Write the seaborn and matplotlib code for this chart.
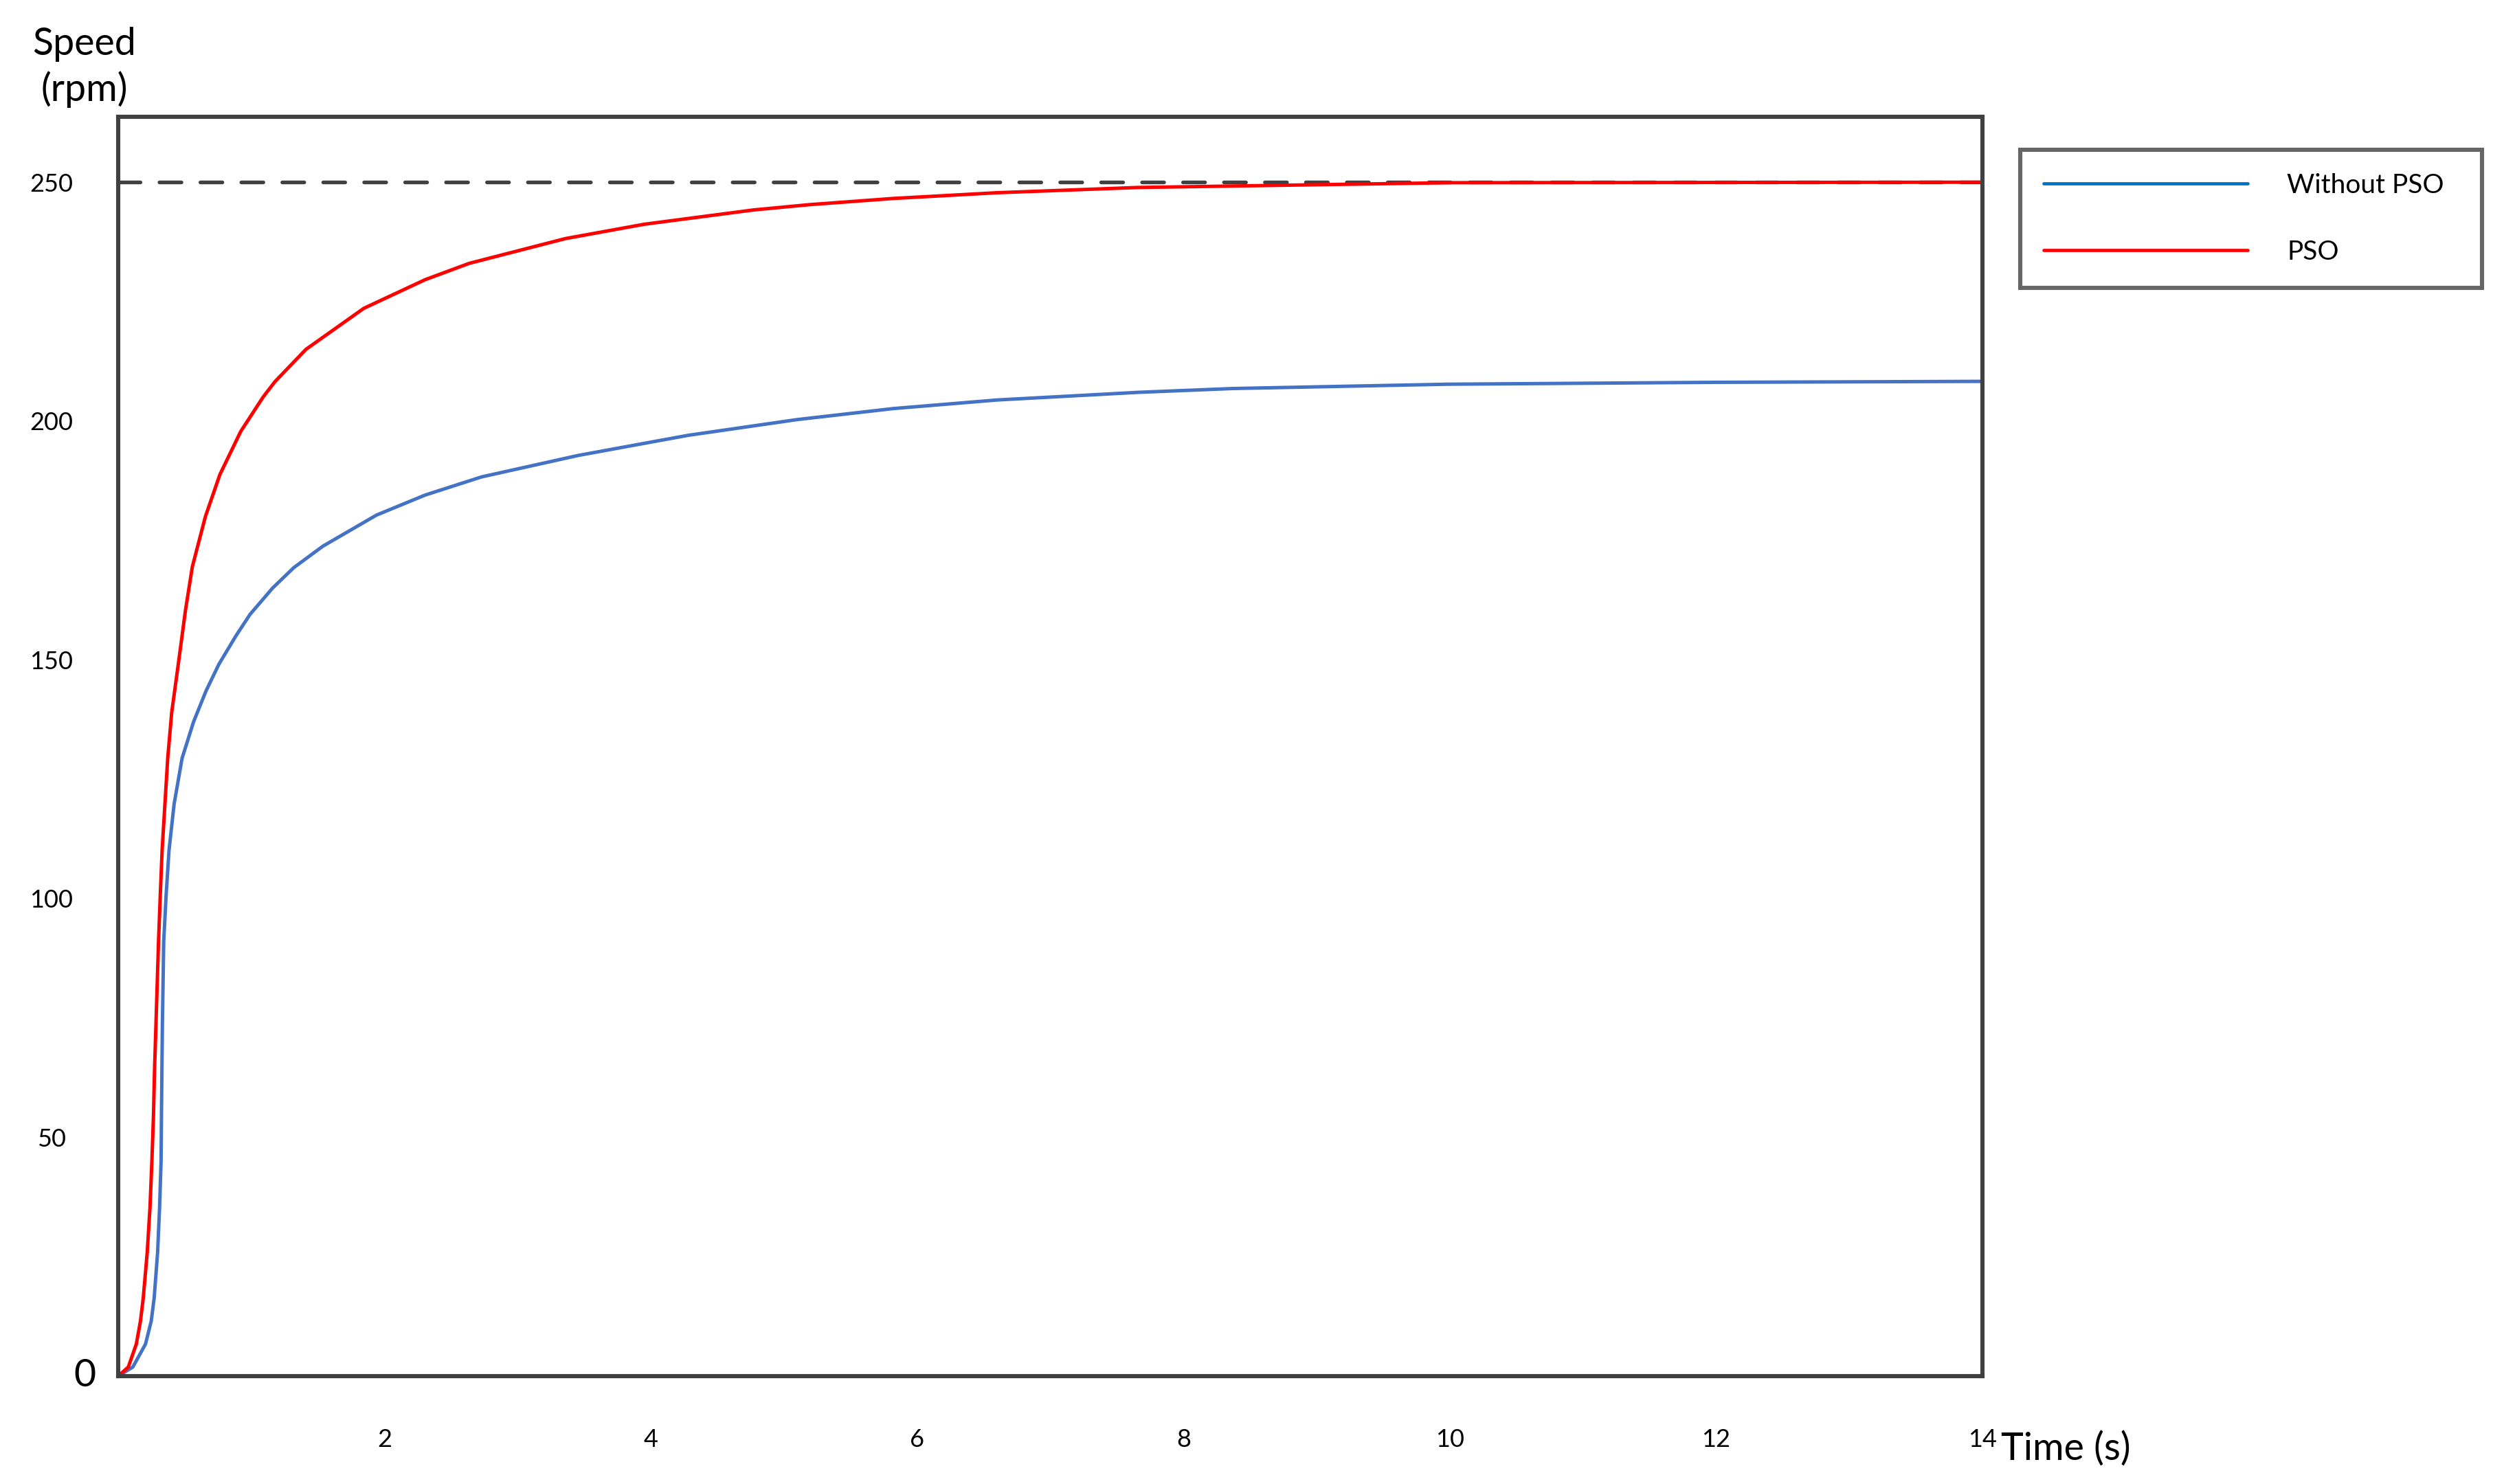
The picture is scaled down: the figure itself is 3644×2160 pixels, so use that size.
import matplotlib
matplotlib.use("Agg")
import pandas as pd
import matplotlib.pyplot as plt
from matplotlib.lines import Line2D
import seaborn as sns

# ---- values ----
series_names = ["Without PSO", "PSO"]

# speed response without PSO (blue)
t_nopso = [0, 0.11, 0.205, 0.248, 0.270, 0.296, 0.311, 0.322, 0.325, 0.332,
           0.342, 0.360, 0.382, 0.420, 0.480, 0.566, 0.66, 0.755, 0.884, 0.99,
           1.159, 1.319, 1.538, 1.94, 2.306, 2.73, 3.457, 4.28, 5.10, 5.82,
           6.6, 7.66, 8.37, 9.98, 12.0, 14.0]
speed_nopso = [0, 1.9, 6.7, 11.5, 16.3, 25.9, 35.4, 45, 54.6, 73.8,
               91.1, 100.7, 110.2, 119.8, 129.4, 137, 143.5, 149, 155, 159.5,
               165, 169.3, 173.8, 180.3, 184.5, 188.3, 192.8, 197, 200.3, 202.6,
               204.4, 206, 206.8, 207.7, 208.1, 208.3]

# speed response with PSO (red)
t_pso = [0, 0.076, 0.136, 0.167, 0.188, 0.218, 0.239, 0.253, 0.265, 0.273,
         0.284, 0.303, 0.316, 0.330, 0.351, 0.372, 0.402, 0.449, 0.506, 0.557,
         0.655, 0.764, 0.92, 1.088, 1.176, 1.41, 1.845, 2.306, 2.635, 3.359,
         3.951, 4.773, 5.19, 5.82, 6.6, 7.66, 10.0, 14.0]
speed_pso = [0, 1.9, 6.7, 11.5, 16.3, 25.9, 35.4, 45, 54.6, 64.2,
             74, 91.1, 100.7, 110.2, 119.8, 129.4, 139, 148.6, 160.5, 169.5,
             180, 188.8, 197.8, 205, 208.2, 215, 223.6, 229.6, 233, 238.2,
             241.2, 244.2, 245.3, 246.6, 247.8, 248.9, 249.9, 250]

setpoint = 250
x_ticks = [2, 4, 6, 8, 10, 12, 14]
y_ticks = [50, 100, 150, 200, 250]

line_colors = {"Without PSO": "#4472C4", "PSO": "#FF0000"}
legend_colors = {"Without PSO": "#0070C0", "PSO": "#FF0000"}
frame_color = "#404040"

df = pd.concat([
    pd.DataFrame({"Time": t_nopso, "Speed": speed_nopso, "Series": "Without PSO"}),
    pd.DataFrame({"Time": t_pso, "Speed": speed_pso, "Series": "PSO"}),
], ignore_index=True)

sns.set_theme(style="white")
plt.rcParams["font.family"] = ["Lato", "DejaVu Sans"]

fig = plt.figure(figsize=(18.22, 10.8), dpi=200)
ax = fig.add_axes([0.0472, 0.0727, 0.7445, 0.8486])

# reference speed (dashed)
ax.axhline(setpoint, color=frame_color, lw=1.95, dashes=(5.9, 5.1),
           dash_capstyle="round", zorder=1)

sns.lineplot(data=df, x="Time", y="Speed", hue="Series", hue_order=series_names,
             palette=line_colors, linewidth=1.8, estimator=None, legend=False,
             ax=ax, zorder=2)
for ln in ax.get_lines():
    ln.set_solid_joinstyle("round")

ax.set_xlim(0, 14)
ax.set_ylim(0, 263.7)

ax.set_xticks(x_ticks)
ax.set_xticklabels([str(v) for v in x_ticks])
ax.set_yticks(y_ticks)
ax.set_yticklabels([str(v) for v in y_ticks])
ax.tick_params(axis="x", length=0, labelsize=13, pad=27.5, colors="black")
ax.tick_params(axis="y", length=0, labelsize=13, pad=35, colors="black")
for lbl in ax.get_yticklabels():
    lbl.set_horizontalalignment("center")

# the origin "0" is written larger than the other ticks
ax.annotate("0", xy=(0, 0), xytext=(-17.6, 0), textcoords="offset points",
            ha="center", va="center", fontsize=20, color="black",
            annotation_clip=False)

ax.set_ylabel("Speed\n(rpm)", rotation=0, fontsize=20, ha="center", va="center",
              linespacing=1.3, color="black")
ax.yaxis.set_label_coords(-49 / 2713, 1 + 72 / 1833)
ax.set_xlabel("Time (s)", fontsize=20, ha="left", va="center", color="black")
ax.xaxis.set_label_coords(1 + 27 / 2713, -106 / 1833)

for sp in ax.spines.values():
    sp.set_visible(True)
    sp.set_color(frame_color)
    sp.set_linewidth(2.2)

handles = [Line2D([0], [0], color=legend_colors[s], lw=1.7) for s in series_names]
leg = fig.legend(handles, series_names, loc="upper left",
                 bbox_to_anchor=(2940 / 3644, 1 - 411 / 2160, 672 / 3644, 193 / 2160),
                 mode="expand", borderaxespad=0, borderpad=0.87,
                 handlelength=7.63, handletextpad=1.49, labelspacing=1.57,
                 fontsize=14, frameon=True, fancybox=False, edgecolor=frame_color)
leg.get_frame().set_linewidth(2.2)
for txt in leg.get_texts():
    txt.set_color("black")

fig.savefig("out.png", dpi=200, facecolor="white")
